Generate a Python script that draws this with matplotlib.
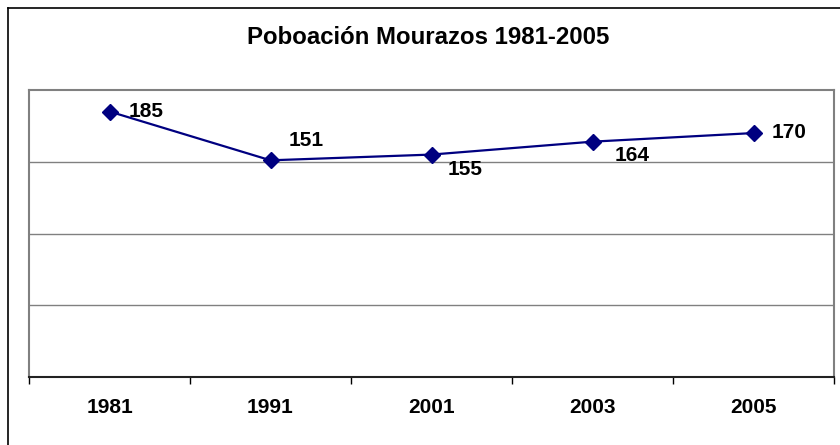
import numpy as np
import matplotlib
matplotlib.use('Agg')
import matplotlib.pyplot as plt
from matplotlib.lines import Line2D

# data
years = ['1981', '1991', '2001', '2003', '2005']
population = [185, 151, 155, 164, 170]

# label offsets in pixels (dx, dy) from the marker
label_offsets = [(19, 0), (18, 20), (16, -15), (22, -14), (18, 1)]

plt.rcParams['font.family'] = ['Liberation Sans', 'DejaVu Sans']

W, H = 840, 445
fig = plt.figure(figsize=(W / 100, H / 100), dpi=100)
fig.patch.set_facecolor('white')

# plot area
left, right, top, bottom = 29, 834, 90, 377
ax = fig.add_axes([left / W, 1 - bottom / H, (right - left) / W, (bottom - top) / H])

x = np.arange(len(years)) + 0.5
ax.plot(x, population, color='#000080', lw=1.6, marker='D', markersize=8,
        markerfacecolor='#000080', markeredgecolor='#000080', zorder=3)

for xi, val, (dx, dy) in zip(x, population, label_offsets):
    ax.annotate(str(val), (xi, val), xytext=(dx, dy), textcoords='offset pixels',
                ha='left', va='center', fontsize=15, fontweight='bold', color='black')

ax.set_xlim(0, len(years))
ax.set_ylim(0, 200)
ax.set_yticks([50, 100, 150])
ax.yaxis.grid(True, color='#808080', lw=1)
ax.set_axisbelow(True)
ax.tick_params(axis='y', left=False, labelleft=False)

ax.set_xticks(x)
ax.set_xticklabels(years, fontsize=15, fontweight='bold')
ax.set_xticks(np.arange(len(years) + 1), minor=True)
ax.tick_params(axis='x', which='major', length=0, pad=15)
ax.tick_params(axis='x', which='minor', length=5, width=1, color='black', direction='out')

for side in ['left', 'right', 'top']:
    ax.spines[side].set_color('#808080')
    ax.spines[side].set_linewidth(1.5)
ax.spines['bottom'].set_color('#222222')
ax.spines['bottom'].set_linewidth(1.5)

# title
fig.text(428 / W, 1 - 37 / H, 'Poboación Mourazos 1981-2005', ha='center', va='center',
         fontsize=17.3, fontweight='bold')

# outer chart border (left and top only visible)
fig.add_artist(Line2D([7.5 / W, 7.5 / W], [0, 1 - 7.5 / H], color='black', lw=1.2))
fig.add_artist(Line2D([7.5 / W, 1], [1 - 7.5 / H, 1 - 7.5 / H], color='black', lw=1.2))

plt.savefig('out.png', dpi=100)
